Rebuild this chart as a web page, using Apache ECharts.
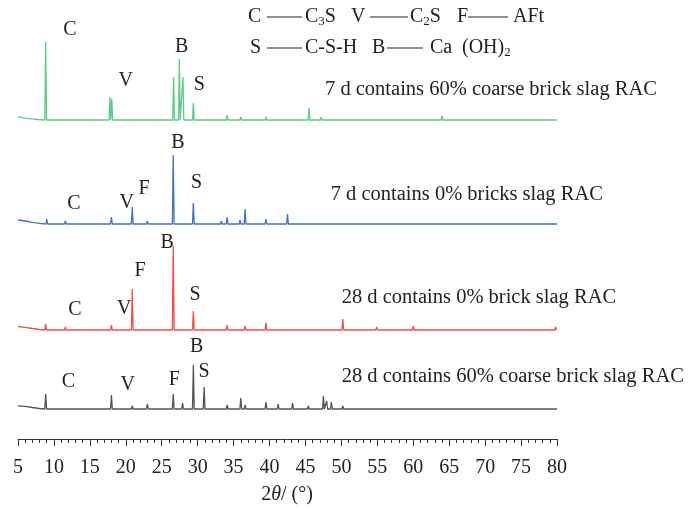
<!DOCTYPE html>
<html><head><meta charset="utf-8">
<script src="https://cdn.jsdelivr.net/npm/echarts@6/dist/echarts.min.js"></script>
<style>html,body{margin:0;padding:0;background:#fff}#c{width:690px;height:510px}</style>
</head><body><div id="c"></div>
<script>
// x tick labels (2θ, degrees)
const xTicks = [5,10,15,20,25,30,35,40,45,50,55,60,65,70,75,80];
const seriesNames = ["7 d contains 60% coarse brick slag RAC","7 d contains 0% bricks slag RAC","28 d contains 0% brick slag RAC","28 d contains 60% coarse brick slag RAC"];

// background start of each pattern [2θ, intensity]
const greenStart = [[5,3.2],[5.8,2.2],[6.8,1.2],[7.8,0.5]];
const blueStart  = [[5,4],[6,3],[7,1.6],[8,0.6]];
const redStart   = [[5,3.5],[6,2.6],[7,1.5],[8,0.5]];
const blackStart = [[5,3.2],[6,2.6],[7,1.5],[8,0.5]];

// peaks [2θ, intensity]
const greenPeaks = [[8.85,78],[11.5,1],[13.8,2],[15.9,1],[17.8,23],[18.05,21],[20.9,1.5],[23.0,2],
  [26.65,43],[27.45,61],[27.95,43],[29.4,17],[31.0,1.5],[32.2,1.5],[34.1,5],[35.0,1],[36.0,3],[36.6,2],
  [39.5,3],[40.3,1.5],[42.5,1.5],[43.3,1],[45.5,12],[47.2,3],[48.6,2],[50.7,1.5],[54.9,1],[57.5,1],[60,1],[64.0,4],[68.1,1],[73,1]];
const bluePeaks = [[9.0,5],[11.6,3],[13.8,1],[15.9,1.5],[18.0,7],[20.9,17],[23.0,3],[26.6,69],[29.4,21],[31.0,1],
  [32.1,2],[33.3,3],[34.1,7],[35.9,4],[36.6,15],[39.5,5],[40.3,2],[42.5,10],[43.3,2],[45.5,1],[47.3,2],[47.8,2],
  [48.6,2],[50.2,2],[52,1],[54.9,1],[57.5,1],[60.0,2],[62.5,1],[64.5,1],[68.1,2],[70,1],[75,1]];
const redPeaks = [[8.85,6],[11.6,3],[13.8,1],[15.9,1],[18.0,5],[20.9,41],[23.0,2],[26.6,84],[29.4,19],[31.0,1.5],
  [32.2,1.5],[34.1,5],[35.4,2],[36.6,4],[39.5,7],[40.3,2],[42.5,2],[43.3,1.5],[45.5,1],[47.3,2],[48.6,2],[50.2,11],
  [52,1],[54.9,3],[60.0,4],[64.5,1],[68.1,2],[72,1],[79.8,3]];
const blackPeaks = [[8.85,15],[11.6,1],[13.8,1],[15.9,1.5],[18.0,14],[20.9,3],[23.0,5],[26.6,15],[27.9,6],[29.4,44],
  [30.9,22],[32.2,2],[33.1,2],[34.1,4],[36.0,11],[36.6,4],[39.5,7],[41.2,5],[43.2,6],[45.4,3],[47.5,13],[47.95,8],
  [48.6,7],[50.2,3],[52.5,1],[55.4,2],[57.5,2],[60.0,2],[64.7,1],[68,1],[72,1],[77.9,2]];

// peak letter annotations [letter, 2θ] per pattern
const greenMarks = [["C",12.24],["V",19.99],["B",27.78],["S",30.23]];
const blueMarks  = [["C",12.79],["V",20.12],["F",22.53],["B",27.26],["S",29.86]];
const redMarks   = [["C",12.93],["V",19.79],["F",21.98],["B",25.77],["S",29.63]];
const blackMarks = [["C",12.0],["V",20.26],["F",26.75],["B",29.86],["S",30.88]];

const colors = ['#5ccb86','#4672c6','#f24d4d','#555555'];
const offsets = [319, 215, 109, 30];          // vertical stacking of the patterns
const markY = [[30,81,46.7,85],[204,203,189,142.7,183],[309.3,308.3,270.7,242.3,295],[381.7,384.3,380,346.7,371.7]];
const nameX = [325, 330.7, 341.7, 341.7];
const nameY = [90, 195, 298, 376.7];

function build(start, peaks, off){
  const pts = start.map(p => [p[0], p[1] + off]);
  const hw = 0.12;
  peaks.forEach(([t,h]) => { pts.push([t-hw, off], [t, off+h], [t+hw, off]); });
  pts.push([80, off]);
  pts.sort((a,b)=>a[0]-b[0]);
  return pts;
}
const datas = [build(greenStart,greenPeaks,offsets[0]), build(blueStart,bluePeaks,offsets[1]),
               build(redStart,redPeaks,offsets[2]), build(blackStart,blackPeaks,offsets[3])];
const marks = [greenMarks, blueMarks, redMarks, blackMarks];

const chart = echarts.init(document.getElementById('c'));
const FONT = '"Liberation Serif","DejaVu Serif",serif';
const gridL = 18, gridR = 557;
const xpx = t => gridL + (t - 5) / 75 * (gridR - gridL);

const graphics = [];
// series names
seriesNames.forEach((n,i)=>graphics.push({type:'text', left:nameX[i], top:nameY[i]-11,
  style:{text:n, font:'20.5px '+FONT, fill:'#222'}}));
// peak letters
marks.forEach((ms,i)=>ms.forEach((m,j)=>graphics.push({type:'text', x:xpx(m[1]), y:markY[i][j],
  style:{text:m[0], font:'20px '+FONT, fill:'#222', align:'center', verticalAlign:'middle'}})));
// key
const rich = {sub:{fontSize:13, fontFamily:FONT, fill:'#222', verticalAlign:'bottom', padding:[10,0,0,0]}, n:{fontSize:20, fontFamily:FONT, fill:'#222'}};
function keyText(x,y,t){ graphics.push({type:'text', x:x, y:y, style:{text:t, rich:rich, font:'20px '+FONT, fill:'#222', verticalAlign:'middle'}}); }
function keyLine(x1,x2,y){ graphics.push({type:'line', shape:{x1:x1,y1:y,x2:x2,y2:y}, style:{stroke:'#222', lineWidth:1}}); }
keyText(248,17,'{n|C}'); keyLine(267,302,17); keyText(305,17,'{n|C}{sub|3}{n|S}');
keyText(351,17,'{n|V}'); keyLine(370,408,17); keyText(410,17,'{n|C}{sub|2}{n|S}');
keyText(457,17,'{n|F}'); keyLine(468,508,17); keyText(513,17,'{n|AFt}');
keyText(250,48,'{n|S}'); keyLine(267,302,48); keyText(305,48,'{n|C-S-H}');
keyText(372,48,'{n|B}'); keyLine(387,423,48); keyText(430,48,'{n|Ca}');
keyText(462,48,'{n|(OH)}{sub|2}');
// axis title
graphics.push({type:'text', x:287, y:495, style:{text:'{n|2}{i|θ}{n|/ (°)}', align:'center', verticalAlign:'middle',
  rich:{n:{fontSize:20,fontFamily:FONT,fill:'#222'}, i:{fontSize:20,fontFamily:FONT,fontStyle:'italic',fill:'#222'}}}});

chart.setOption({
  animation:false,
  grid:{left:gridL, right:690-gridR, top:20, bottom:71},
  xAxis:{type:'value', min:5, max:80, interval:5,
    axisLine:{show:true, lineStyle:{color:'#333', width:1}},
    axisTick:{show:true, length:7, lineStyle:{color:'#333'}},
    minorTick:{show:true, splitNumber:5, length:4, lineStyle:{color:'#333'}},
    splitLine:{show:false}, minorSplitLine:{show:false},
    axisLabel:{fontFamily:FONT, fontSize:20, color:'#222', margin:19,
      formatter: v => xTicks.includes(v) ? String(v) : ''}},
  yAxis:{type:'value', show:false, min:0, max:419},
  series: datas.map((d,i)=>({type:'line', data:d, showSymbol:false, symbol:'none',
    lineStyle:{color:colors[i], width:1.3}, z:2})),
  graphic: graphics
});
</script></body></html>
